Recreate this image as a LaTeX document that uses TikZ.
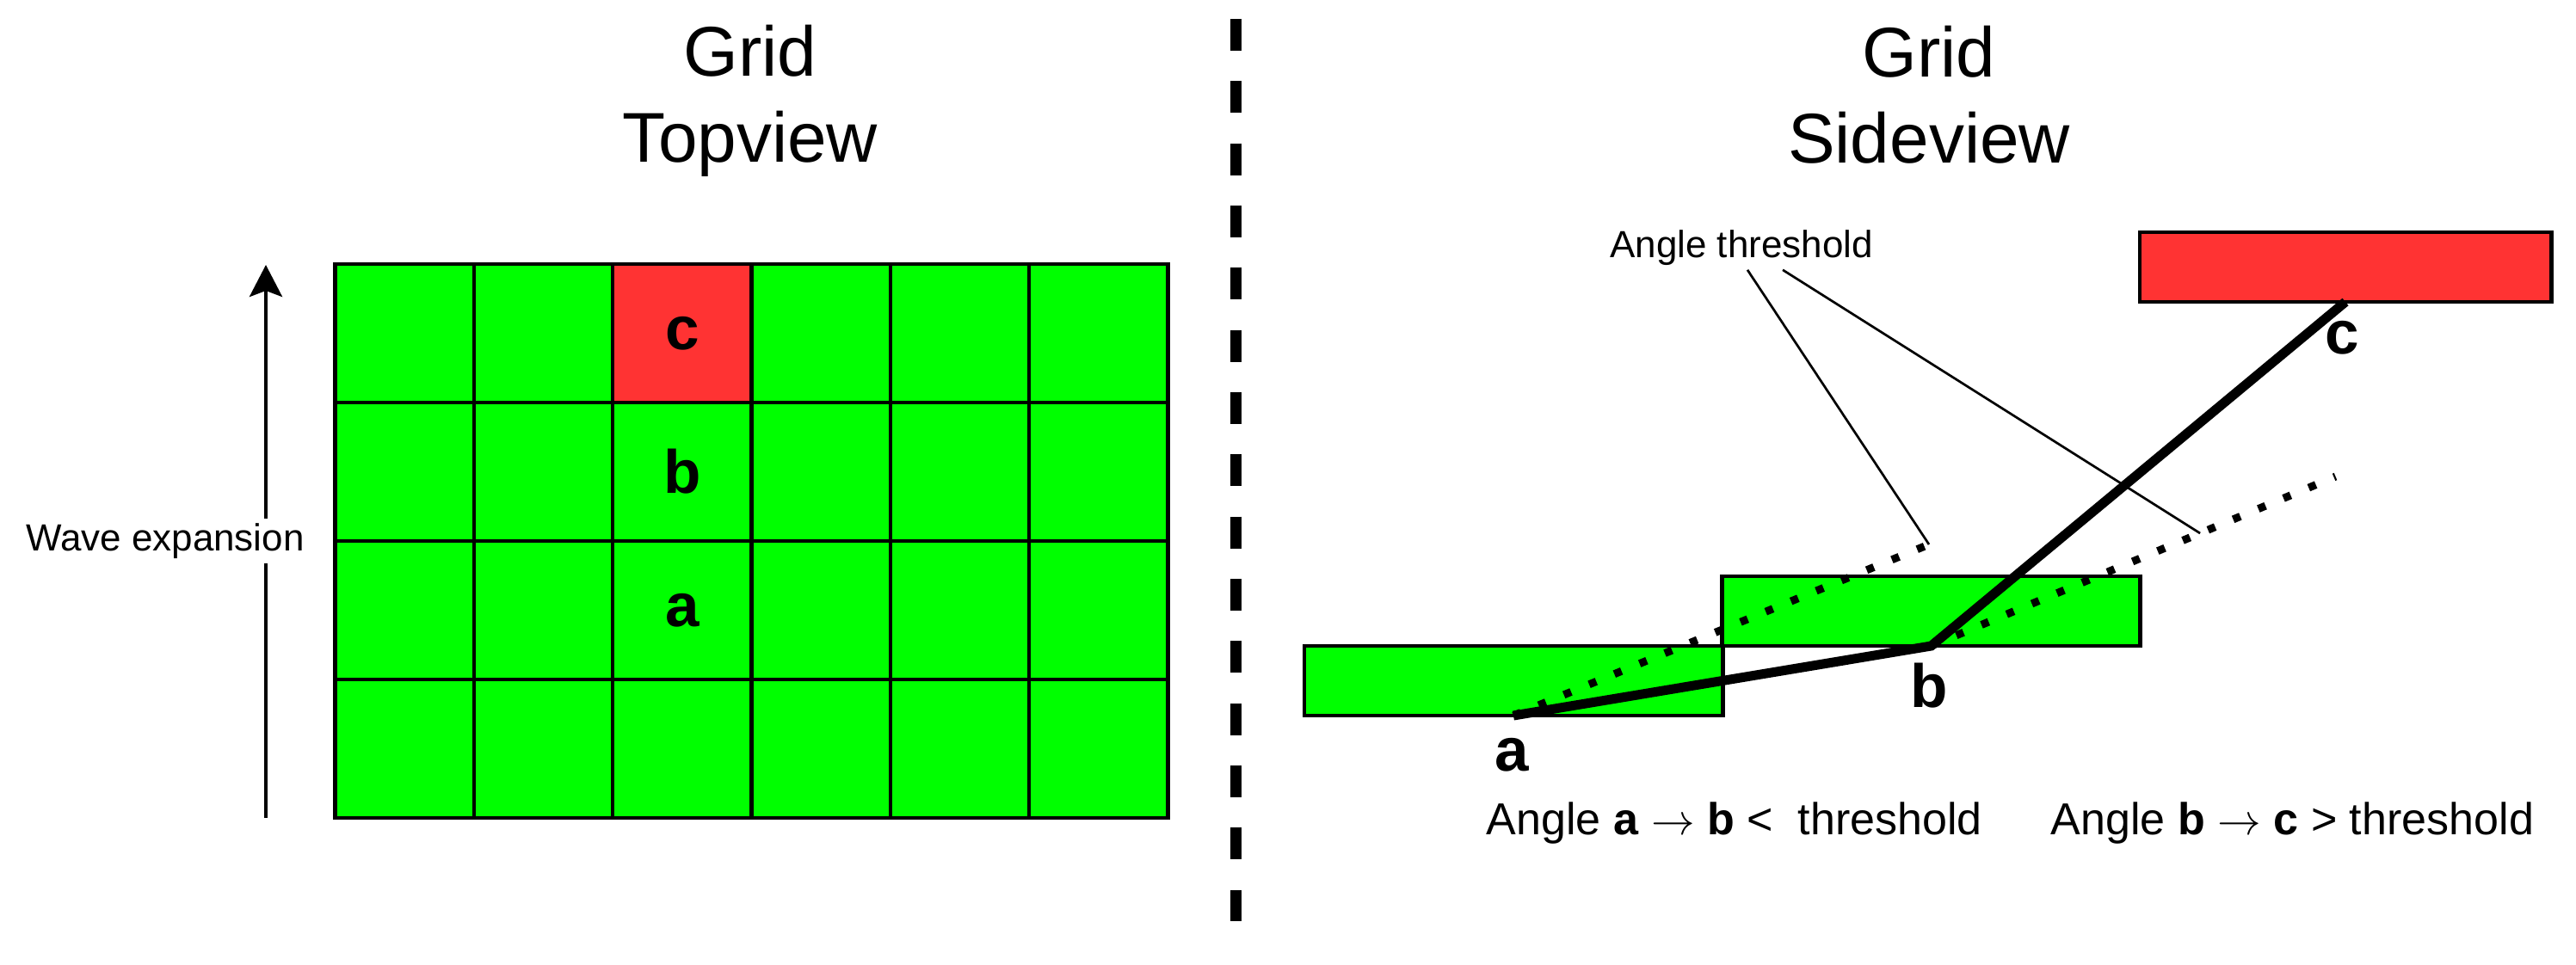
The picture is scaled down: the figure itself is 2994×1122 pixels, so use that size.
\documentclass[tikz,border=0pt]{standalone}
\usepackage{fontspec}
\setmainfont{Liberation Sans}
\usetikzlibrary{arrows.meta,calc}
\definecolor{cellgreen}{RGB}{0,255,0}
\definecolor{cellred}{RGB}{255,51,51}
\begin{document}
\begin{tikzpicture}[x=0.01cm,y=-0.01cm,
  cellbox/.style={draw=black,line width=0.045cm,fill=cellgreen,minimum width=1.6135cm,minimum height=1.61cm,inner sep=0,outer sep=0},
  slab/.style={draw=black,line width=0.047cm,fill=cellgreen,minimum width=4.86cm,minimum height=0.81cm,inner sep=0,outer sep=0},
  titletext/.style={font=\fontsize{23.3}{28}\selectfont,inner sep=0,anchor=base},
  lbltext/.style={font=\fontsize{20.2}{24}\selectfont\bfseries,inner sep=0},
  smalltext/.style={font=\fontsize{12.5}{15}\selectfont,inner sep=0},
  condtext/.style={font=\fontsize{14.8}{18}\selectfont,inner sep=0,anchor=base west},
  dotline/.style={line width=0.09cm,dash pattern=on 0.09cm off 0.227cm},
  pathline/.style={line width=0.11cm},
  leader/.style={line width=0.027cm}
]
\useasboundingbox (0,0) rectangle (2994,1122);

% ---------- titles ----------
\node[titletext] (t1a) at (872,89) {Grid};
\node[titletext] (t1b) at (872,189) {Topview};
\node[titletext] (t2a) at (2242,90) {Grid};
\node[titletext] (t2b) at (2242,190) {Sideview};

% ---------- divider ----------
\coordinate (dtop) at (1436.5,22);
\coordinate (dbot) at (1436.5,1071);
\draw[line width=0.13cm,dash pattern=on 0.37cm off 0.353cm] (dtop) -- (dbot);

% ---------- top view grid ----------
\foreach \i in {0,...,5}{
  \foreach \j in {0,...,3}{
    \ifnum\i=2 \ifnum\j=0 \def\fc{cellred}\else\def\fc{cellgreen}\fi\else\def\fc{cellgreen}\fi
    \node[cellbox,fill=\fc] (g-\i-\j) at ({389.5+161.35*(\i+0.5)},{307+161*(\j+0.5)}) {};
  }
}
\node[lbltext] (gc) at (g-2-0) {c};
\node[lbltext] (gb) at (g-2-1) {b};
\node[lbltext] (ga) at (g-2-2) {a};

% ---------- wave expansion arrow ----------
\coordinate (wb) at (309,951);
\coordinate (wt) at (309,308);
\draw[line width=0.04cm,-{Stealth[length=0.37cm,width=0.38cm,inset=0.07cm]}] (wb) -- (wt);
\node[smalltext,fill=white,inner sep=0.06cm] (wave) at (192,629) {Wave expansion};

% ---------- side view ----------
\node[slab] (r1) at (1759,791.5) {};
\node[slab] (r2) at (2244.5,710.5) {};
\node[slab,fill=cellred,minimum width=4.78cm] (r3) at (2726,310.5) {};

\draw[dotline] (r1.south) -- ++(483,-199) coordinate (d1);
\draw[dotline] (r2.south) -- ++(470,-197) coordinate[pos=0.665] (d2m);

\draw[pathline] (r1.south) -- (r2.south) -- (r3.south);

\node[smalltext,anchor=base] (thr) at (2024,300) {Angle threshold};
\coordinate (l1) at ($(thr.south)+(7,4)$);
\coordinate (l2) at ($(thr.south)+(48,4)$);
\draw[leader] (l1) -- (d1);
\draw[leader] (l2) -- (d2m);

\node[lbltext] (sa) at ($(r1.south)+(-2,46)$) {a};
\node[lbltext] (sb) at ($(r2.south)+(-2,46)$) {b};
\node[lbltext] (sc) at ($(r3.south)+(-4,42)$) {c};

\node[condtext] (cond1) at (1727,970) {Angle \textbf{a} $\rightarrow$ \textbf{b} <\ \ threshold};
\node[condtext] (cond2) at (2383,970) {Angle \textbf{b} $\rightarrow$ \textbf{c} > threshold};
\end{tikzpicture}
\end{document}
